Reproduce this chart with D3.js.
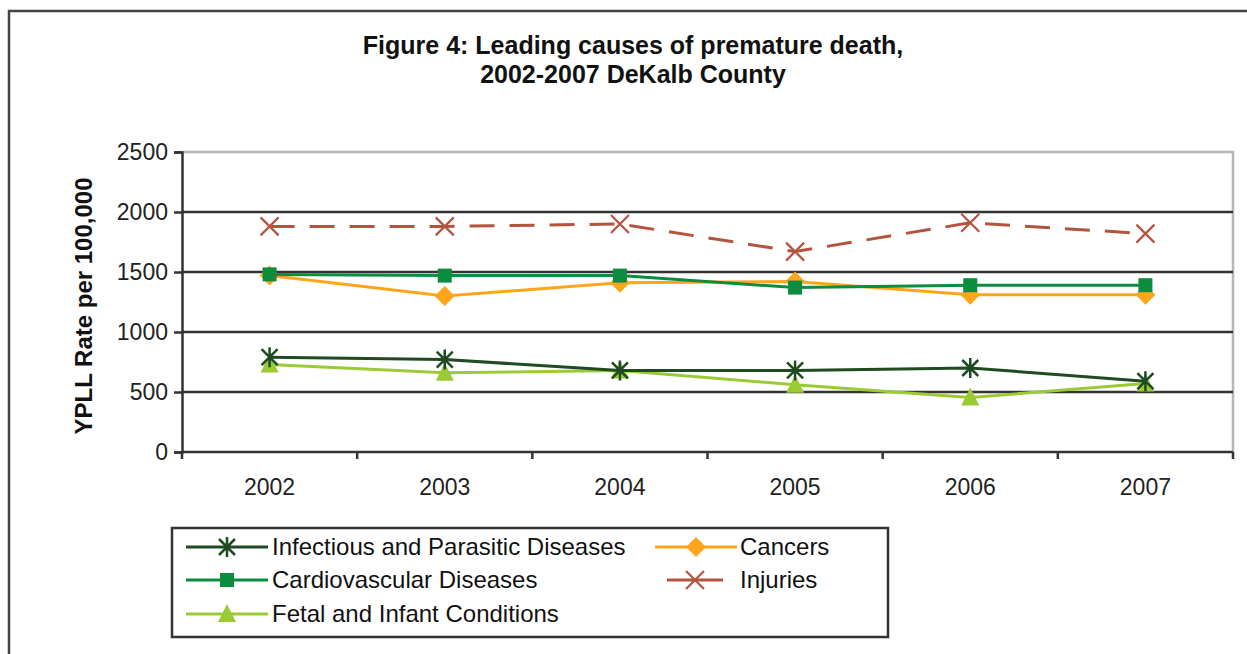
<!DOCTYPE html>
<html>
<head>
<meta charset="utf-8">
<script src="https://cdn.jsdelivr.net/npm/d3@7"></script>
<style>
  html, body { margin: 0; padding: 0; background: #fff; }
  svg { display: block; }
</style>
</head>
<body>
<svg id="chart" width="1247" height="654"></svg>
<script>
// Years on the category axis
const years = ["2002", "2003", "2004", "2005", "2006", "2007"];
const yTicks = [0, 500, 1000, 1500, 2000, 2500];

// YPLL rate per 100,000 for each leading cause
const infectious = [790, 770, 680, 680, 700, 590];
const cancers = [1470, 1300, 1410, 1420, 1310, 1310];
const cardiovascular = [1480, 1470, 1470, 1370, 1390, 1390];
const injuries = [1880, 1880, 1900, 1670, 1910, 1820];
const fetal = [730, 660, 680, 560, 455, 570];

const series = [
  { name: "Infectious and Parasitic Diseases", values: infectious, color: "#1f4a22", marker: "star", dash: null },
  { name: "Cancers", values: cancers, color: "#ffa51c", marker: "diamond", dash: null },
  { name: "Cardiovascular Diseases", values: cardiovascular, color: "#0c8c3e", marker: "square", dash: null },
  { name: "Injuries", values: injuries, color: "#b4533e", marker: "x", dash: "25,15" },
  { name: "Fetal and Infant Conditions", values: fetal, color: "#9acb34", marker: "triangle", dash: null }
];
// draw order: bottom to top
const drawOrder = [4, 1, 2, 3, 0];

const svg = d3.select("#chart");
const sans = "'Liberation Sans', Arial, sans-serif";

// outer frame
svg.append("rect").attr("x", 9).attr("y", 11).attr("width", 1260).attr("height", 700)
  .attr("fill", "none").attr("stroke", "#444").attr("stroke-width", 2.5);

// title
const title = svg.append("text").attr("x", 633).attr("text-anchor", "middle")
  .attr("font-family", sans).attr("font-weight", "bold").attr("font-size", 25).attr("fill", "#111");
title.append("tspan").attr("x", 633).attr("y", 54).text("Figure 4: Leading causes of premature death,");
title.append("tspan").attr("x", 633).attr("y", 83).text("2002-2007 DeKalb County");

const plot = { left: 182, right: 1233, top: 152, bottom: 452 };

const x = d3.scaleBand().domain(years).range([plot.left, plot.right]).padding(0);
const y = d3.scaleLinear().domain([0, 2500]).range([plot.bottom, plot.top]);

// plot frame (top and right edges, light grey)
svg.append("path")
  .attr("d", `M${plot.left},${plot.top}H${plot.right}V${plot.bottom}`)
  .attr("fill", "none").attr("stroke", "#b8b8b8").attr("stroke-width", 2.5);

// gridlines
svg.append("g").selectAll("line").data(yTicks.filter(v => v > 0 && v < 2500)).join("line")
  .attr("x1", plot.left).attr("x2", plot.right)
  .attr("y1", d => y(d)).attr("y2", d => y(d))
  .attr("stroke", "#333").attr("stroke-width", 2.5);

// y axis
const yAxis = svg.append("g").attr("transform", `translate(${plot.left},0)`)
  .call(d3.axisLeft(y).tickValues(yTicks).tickSize(8).tickPadding(6).tickFormat(d3.format("d")));
yAxis.select(".domain").attr("stroke", "#333").attr("stroke-width", 2.5);
yAxis.selectAll(".tick line").attr("stroke", "#333").attr("stroke-width", 2.5);
yAxis.selectAll("text").attr("font-family", sans).attr("font-size", 23).attr("fill", "#222");

// x axis with ticks at category boundaries
const xAxis = svg.append("g").attr("transform", `translate(0,${plot.bottom})`);
xAxis.append("line").attr("x1", plot.left).attr("x2", plot.right).attr("y1", 0).attr("y2", 0)
  .attr("stroke", "#333").attr("stroke-width", 2.5);
const bounds = years.map(d => x(d)).concat([x(years[years.length - 1]) + x.bandwidth()]);
xAxis.selectAll("line.tk").data(bounds).join("line").attr("class", "tk")
  .attr("x1", d => d).attr("x2", d => d).attr("y1", 0).attr("y2", 7)
  .attr("stroke", "#333").attr("stroke-width", 2.5);
xAxis.selectAll("text").data(years).join("text")
  .attr("x", d => x(d) + x.bandwidth() / 2).attr("y", 43)
  .attr("text-anchor", "middle").attr("font-family", sans).attr("font-size", 23).attr("fill", "#222")
  .text(d => d);

// y axis title
svg.append("text").attr("transform", `translate(92,${(plot.top + plot.bottom) / 2 + 4}) rotate(-90)`)
  .attr("text-anchor", "middle").attr("font-family", sans).attr("font-weight", "bold")
  .attr("font-size", 24).attr("fill", "#111").text("YPLL Rate per 100,000");

// marker shapes
function marker(g, type, color, cx, cy) {
  if (type === "star") {
    const r = 8;
    g.append("path").attr("d",
      `M${cx - r},${cy - r}L${cx + r},${cy + r}M${cx - r},${cy + r}L${cx + r},${cy - r}M${cx},${cy - r - 2}L${cx},${cy + r + 2}`)
      .attr("stroke", color).attr("stroke-width", 2.5).attr("fill", "none");
  } else if (type === "x") {
    const r = 9;
    g.append("path").attr("d",
      `M${cx - r},${cy - r}L${cx + r},${cy + r}M${cx - r},${cy + r}L${cx + r},${cy - r}`)
      .attr("stroke", color).attr("stroke-width", 2.2).attr("fill", "none");
  } else if (type === "diamond") {
    const r = 10;
    g.append("path").attr("d", `M${cx},${cy - r}L${cx + r},${cy}L${cx},${cy + r}L${cx - r},${cy}Z`)
      .attr("fill", color);
  } else if (type === "square") {
    const r = 7;
    g.append("rect").attr("x", cx - r).attr("y", cy - r).attr("width", 2 * r).attr("height", 2 * r)
      .attr("fill", color);
  } else if (type === "triangle") {
    const r = 9;
    g.append("path").attr("d", `M${cx},${cy - r - 1}L${cx + r},${cy + r - 1}L${cx - r},${cy + r - 1}Z`)
      .attr("fill", color);
  }
}

const line = d3.line().x((d, i) => x(years[i]) + x.bandwidth() / 2).y(d => y(d));

drawOrder.forEach(k => {
  const s = series[k];
  const g = svg.append("g");
  g.append("path").attr("d", line(s.values)).attr("fill", "none")
    .attr("stroke", s.color).attr("stroke-width", 3)
    .attr("stroke-dasharray", s.dash);
  s.values.forEach((v, i) => marker(g, s.marker, s.color, x(years[i]) + x.bandwidth() / 2, y(v)));
});

// legend
const legendBox = { x: 172, y: 528, w: 716, h: 109 };
svg.append("rect").attr("x", legendBox.x).attr("y", legendBox.y)
  .attr("width", legendBox.w).attr("height", legendBox.h)
  .attr("fill", "#fff").attr("stroke", "#333").attr("stroke-width", 2.5);

const legendPos = [
  { k: 0, lx: 186, ly: 547 },
  { k: 1, lx: 655, ly: 547 },
  { k: 2, lx: 186, ly: 580 },
  { k: 3, lx: 655, ly: 580 },
  { k: 4, lx: 186, ly: 614 }
];
legendPos.forEach(p => {
  const s = series[p.k];
  const g = svg.append("g");
  const x0 = s.marker === "x" ? p.lx + 12 : p.lx;
  const x1 = s.marker === "x" ? p.lx + 68 : p.lx + 82;
  g.append("line").attr("x1", x0).attr("x2", x1).attr("y1", p.ly).attr("y2", p.ly)
    .attr("stroke", s.color).attr("stroke-width", 3);
  marker(g, s.marker, s.color, (x0 + x1) / 2, p.ly);
  g.append("text").attr("x", p.k % 2 === 1 ? 740 : 272).attr("y", p.ly + 8)
    .attr("font-family", sans).attr("font-size", 24).attr("fill", "#111").text(s.name);
});
</script>
</body>
</html>
